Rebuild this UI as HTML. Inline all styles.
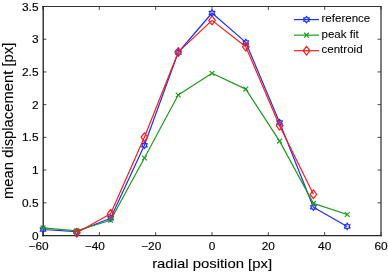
<!DOCTYPE html>
<html><head><meta charset="utf-8"><style>
html,body{margin:0;padding:0;background:#fff;width:388px;height:272px;overflow:hidden;}
svg{display:block;font-family:"Liberation Sans",sans-serif;will-change:transform;}
text{fill:#000;stroke:#000;stroke-width:0.15px;} text.big{stroke-width:0.12px;} text.lg{stroke-width:0.08px;}
</style></head><body><svg width="388" height="272" viewBox="0 0 388 272" font-family="'Liberation Sans', sans-serif"><path d="M43.00,235.5v-3.4M43.00,6.5v3.4M99.33,235.5v-3.4M99.33,6.5v3.4M155.67,235.5v-3.4M155.67,6.5v3.4M212.00,235.5v-3.4M212.00,6.5v3.4M268.33,235.5v-3.4M268.33,6.5v3.4M324.67,235.5v-3.4M324.67,6.5v3.4M381.00,235.5v-3.4M381.00,6.5v3.4M43.0,235.50h3.4M381.0,235.50h-3.4M43.0,202.79h3.4M381.0,202.79h-3.4M43.0,170.07h3.4M381.0,170.07h-3.4M43.0,137.36h3.4M381.0,137.36h-3.4M43.0,104.64h3.4M381.0,104.64h-3.4M43.0,71.93h3.4M381.0,71.93h-3.4M43.0,39.21h3.4M381.0,39.21h-3.4M43.0,6.50h3.4M381.0,6.50h-3.4" stroke="#333" stroke-width="0.9" fill="none"/><path d="M42,6.5H382" stroke="#333" stroke-width="1.1" fill="none"/><path d="M42,235.6H382" stroke="#2a2a2a" stroke-width="1.2" fill="none"/><path d="M43.2,6V236.2" stroke="#1a1a1a" stroke-width="1.3" fill="none"/><path d="M381,6V236.2" stroke="#3a3a3a" stroke-width="1.3" fill="none"/><polyline points="43.00,229.50 76.80,231.60 110.60,218.30 144.40,145.30 178.20,52.50 212.00,13.00 245.80,42.40 279.60,122.60 313.40,207.20 347.20,226.40" fill="none" stroke="#1a30ff" stroke-width="1.2" stroke-linejoin="round"/><polygon points="43.00,226.20 42.05,227.85 40.14,227.85 41.10,229.50 40.14,231.15 42.05,231.15 43.00,232.80 43.95,231.15 45.86,231.15 44.90,229.50 45.86,227.85 43.95,227.85" fill="none" stroke="#1a30ff" stroke-width="1.2" stroke-linejoin="round"/><polygon points="76.80,228.30 75.85,229.95 73.94,229.95 74.90,231.60 73.94,233.25 75.85,233.25 76.80,234.90 77.75,233.25 79.66,233.25 78.70,231.60 79.66,229.95 77.75,229.95" fill="none" stroke="#1a30ff" stroke-width="1.2" stroke-linejoin="round"/><polygon points="110.60,215.00 109.65,216.65 107.74,216.65 108.70,218.30 107.74,219.95 109.65,219.95 110.60,221.60 111.55,219.95 113.46,219.95 112.50,218.30 113.46,216.65 111.55,216.65" fill="none" stroke="#1a30ff" stroke-width="1.2" stroke-linejoin="round"/><polygon points="144.40,142.00 143.45,143.65 141.54,143.65 142.50,145.30 141.54,146.95 143.45,146.95 144.40,148.60 145.35,146.95 147.26,146.95 146.30,145.30 147.26,143.65 145.35,143.65" fill="none" stroke="#1a30ff" stroke-width="1.2" stroke-linejoin="round"/><polygon points="178.20,49.20 177.25,50.85 175.34,50.85 176.30,52.50 175.34,54.15 177.25,54.15 178.20,55.80 179.15,54.15 181.06,54.15 180.10,52.50 181.06,50.85 179.15,50.85" fill="none" stroke="#1a30ff" stroke-width="1.2" stroke-linejoin="round"/><polygon points="212.00,9.70 211.05,11.35 209.14,11.35 210.10,13.00 209.14,14.65 211.05,14.65 212.00,16.30 212.95,14.65 214.86,14.65 213.90,13.00 214.86,11.35 212.95,11.35" fill="none" stroke="#1a30ff" stroke-width="1.2" stroke-linejoin="round"/><polygon points="245.80,39.10 244.85,40.75 242.94,40.75 243.90,42.40 242.94,44.05 244.85,44.05 245.80,45.70 246.75,44.05 248.66,44.05 247.70,42.40 248.66,40.75 246.75,40.75" fill="none" stroke="#1a30ff" stroke-width="1.2" stroke-linejoin="round"/><polygon points="279.60,119.30 278.65,120.95 276.74,120.95 277.70,122.60 276.74,124.25 278.65,124.25 279.60,125.90 280.55,124.25 282.46,124.25 281.50,122.60 282.46,120.95 280.55,120.95" fill="none" stroke="#1a30ff" stroke-width="1.2" stroke-linejoin="round"/><polygon points="313.40,203.90 312.45,205.55 310.54,205.55 311.50,207.20 310.54,208.85 312.45,208.85 313.40,210.50 314.35,208.85 316.26,208.85 315.30,207.20 316.26,205.55 314.35,205.55" fill="none" stroke="#1a30ff" stroke-width="1.2" stroke-linejoin="round"/><polygon points="347.20,223.10 346.25,224.75 344.34,224.75 345.30,226.40 344.34,228.05 346.25,228.05 347.20,229.70 348.15,228.05 350.06,228.05 349.10,226.40 350.06,224.75 348.15,224.75" fill="none" stroke="#1a30ff" stroke-width="1.2" stroke-linejoin="round"/><polyline points="43.00,227.90 76.80,230.80 110.60,220.20 144.40,158.00 178.20,95.00 212.00,73.30 245.80,89.10 279.60,141.10 313.40,203.40 347.20,214.50" fill="none" stroke="#1e9a1e" stroke-width="1.2" stroke-linejoin="round"/><path d="M40.60,225.50L45.40,230.30M40.60,230.30L45.40,225.50" stroke="#1e9a1e" stroke-width="1.2" fill="none"/><path d="M74.40,228.40L79.20,233.20M74.40,233.20L79.20,228.40" stroke="#1e9a1e" stroke-width="1.2" fill="none"/><path d="M108.20,217.80L113.00,222.60M108.20,222.60L113.00,217.80" stroke="#1e9a1e" stroke-width="1.2" fill="none"/><path d="M142.00,155.60L146.80,160.40M142.00,160.40L146.80,155.60" stroke="#1e9a1e" stroke-width="1.2" fill="none"/><path d="M175.80,92.60L180.60,97.40M175.80,97.40L180.60,92.60" stroke="#1e9a1e" stroke-width="1.2" fill="none"/><path d="M209.60,70.90L214.40,75.70M209.60,75.70L214.40,70.90" stroke="#1e9a1e" stroke-width="1.2" fill="none"/><path d="M243.40,86.70L248.20,91.50M243.40,91.50L248.20,86.70" stroke="#1e9a1e" stroke-width="1.2" fill="none"/><path d="M277.20,138.70L282.00,143.50M277.20,143.50L282.00,138.70" stroke="#1e9a1e" stroke-width="1.2" fill="none"/><path d="M311.00,201.00L315.80,205.80M311.00,205.80L315.80,201.00" stroke="#1e9a1e" stroke-width="1.2" fill="none"/><path d="M344.80,212.10L349.60,216.90M344.80,216.90L349.60,212.10" stroke="#1e9a1e" stroke-width="1.2" fill="none"/><polyline points="76.80,232.70 110.60,213.80 144.40,137.20 178.20,52.10 212.00,20.40 245.80,46.80 279.60,125.70 313.40,194.30" fill="none" stroke="#ff1a1a" stroke-width="1.2" stroke-linejoin="round"/><polygon points="76.80,228.30 80.10,232.70 76.80,237.10 73.50,232.70" fill="none" stroke="#ff1a1a" stroke-width="1.2" stroke-linejoin="round"/><polygon points="110.60,209.40 113.90,213.80 110.60,218.20 107.30,213.80" fill="none" stroke="#ff1a1a" stroke-width="1.2" stroke-linejoin="round"/><polygon points="144.40,132.80 147.70,137.20 144.40,141.60 141.10,137.20" fill="none" stroke="#ff1a1a" stroke-width="1.2" stroke-linejoin="round"/><polygon points="178.20,47.70 181.50,52.10 178.20,56.50 174.90,52.10" fill="none" stroke="#ff1a1a" stroke-width="1.2" stroke-linejoin="round"/><polygon points="212.00,16.00 215.30,20.40 212.00,24.80 208.70,20.40" fill="none" stroke="#ff1a1a" stroke-width="1.2" stroke-linejoin="round"/><polygon points="245.80,42.40 249.10,46.80 245.80,51.20 242.50,46.80" fill="none" stroke="#ff1a1a" stroke-width="1.2" stroke-linejoin="round"/><polygon points="279.60,121.30 282.90,125.70 279.60,130.10 276.30,125.70" fill="none" stroke="#ff1a1a" stroke-width="1.2" stroke-linejoin="round"/><polygon points="313.40,189.90 316.70,194.30 313.40,198.70 310.10,194.30" fill="none" stroke="#ff1a1a" stroke-width="1.2" stroke-linejoin="round"/><g fill="#000"><text transform="translate(48.60,249.60) scale(1.09,1)" font-size="10.9" text-anchor="end">−60</text><text transform="translate(104.93,249.60) scale(1.09,1)" font-size="10.9" text-anchor="end">−40</text><text transform="translate(161.27,249.60) scale(1.09,1)" font-size="10.9" text-anchor="end">−20</text><text transform="translate(212.00,249.60) scale(1.09,1)" font-size="10.9" text-anchor="middle">0</text><text transform="translate(268.33,249.60) scale(1.09,1)" font-size="10.9" text-anchor="middle">20</text><text transform="translate(324.67,249.60) scale(1.09,1)" font-size="10.9" text-anchor="middle">40</text><text transform="translate(381.00,249.60) scale(1.09,1)" font-size="10.9" text-anchor="middle">60</text><text transform="translate(38.50,239.50) scale(1.09,1)" font-size="10.9" text-anchor="end">0</text><text transform="translate(38.50,206.79) scale(1.09,1)" font-size="10.9" text-anchor="end">0.5</text><text transform="translate(38.50,174.07) scale(1.09,1)" font-size="10.9" text-anchor="end">1</text><text transform="translate(38.50,141.36) scale(1.09,1)" font-size="10.9" text-anchor="end">1.5</text><text transform="translate(38.50,108.64) scale(1.09,1)" font-size="10.9" text-anchor="end">2</text><text transform="translate(38.50,75.93) scale(1.09,1)" font-size="10.9" text-anchor="end">2.5</text><text transform="translate(38.50,43.21) scale(1.09,1)" font-size="10.9" text-anchor="end">3</text><text transform="translate(38.50,10.50) scale(1.09,1)" font-size="10.9" text-anchor="end">3.5</text></g><text class="big" transform="translate(212.10,267.60) scale(1.111,1)" font-size="13.4" text-anchor="middle">radial position [px]</text><text class="big" transform="translate(12.50,120.80) rotate(-90) scale(1.043,1)" font-size="14.2" text-anchor="middle">mean displacement [px]</text><line x1="294" y1="19.6" x2="319" y2="19.6" stroke="#1a30ff" stroke-width="1.2"/><polygon points="306.50,16.30 305.55,17.95 303.64,17.95 304.60,19.60 303.64,21.25 305.55,21.25 306.50,22.90 307.45,21.25 309.36,21.25 308.40,19.60 309.36,17.95 307.45,17.95" fill="none" stroke="#1a30ff" stroke-width="1.2" stroke-linejoin="round"/><text class="lg" transform="translate(321.50,22.20) scale(1.05,1)" font-size="11" text-anchor="start">reference</text><line x1="294" y1="35.150000000000006" x2="319" y2="35.150000000000006" stroke="#1e9a1e" stroke-width="1.2"/><path d="M304.10,32.75L308.90,37.55M304.10,37.55L308.90,32.75" stroke="#1e9a1e" stroke-width="1.2" fill="none"/><text class="lg" transform="translate(321.50,37.75) scale(1.05,1)" font-size="11" text-anchor="start">peak fit</text><line x1="294" y1="50.7" x2="319" y2="50.7" stroke="#ff1a1a" stroke-width="1.2"/><polygon points="306.50,46.30 309.80,50.70 306.50,55.10 303.20,50.70" fill="none" stroke="#ff1a1a" stroke-width="1.2" stroke-linejoin="round"/><text class="lg" transform="translate(321.50,53.30) scale(1.05,1)" font-size="11" text-anchor="start">centroid</text></svg></body></html>
